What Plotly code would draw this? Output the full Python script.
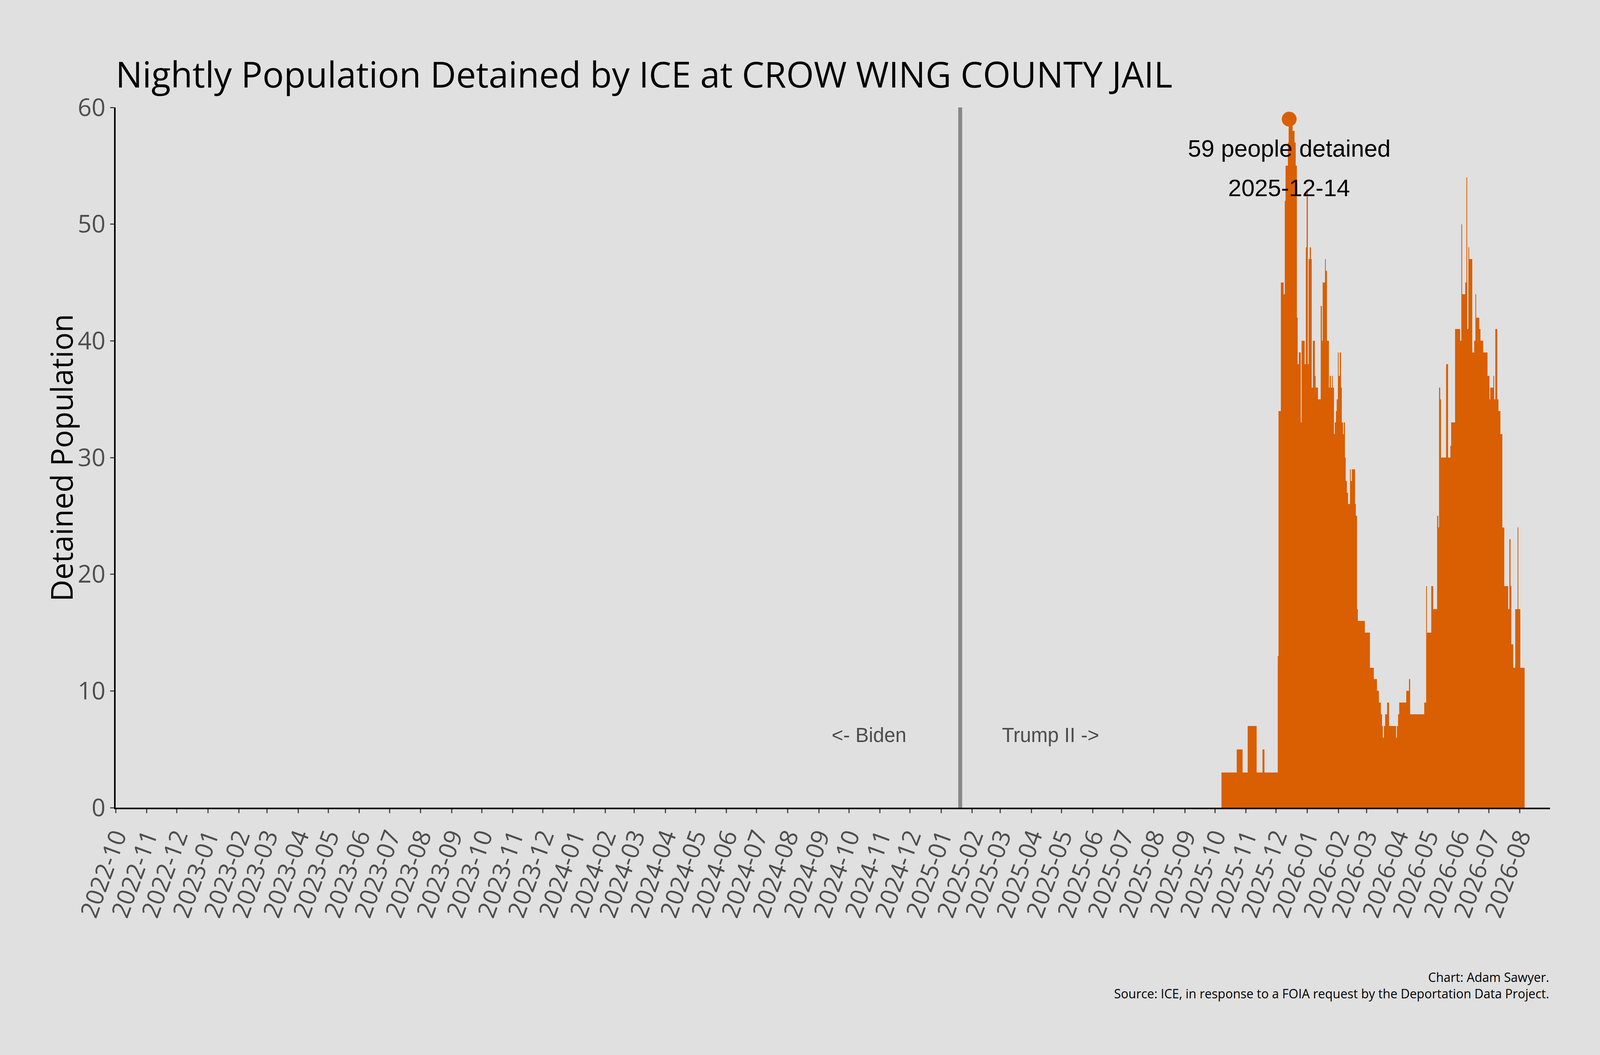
import pandas as pd
import plotly.graph_objs as go

# nightly ICE population, one value per night starting 2025-10-08
start_date = "2025-10-08"
oct_2025 = [3, 3, 3, 3, 3, 3, 3, 3, 3, 3, 3, 3, 3, 3, 3, 5, 5, 5, 5, 5, 5, 3, 3, 3]
nov_2025 = [3, 3, 7, 7, 7, 7, 7, 7, 7, 7, 7, 3, 3, 3, 3, 3, 3, 5, 5, 3,
            3, 3, 3, 3, 3, 3, 3, 3, 3, 3]
dec_2025 = [3, 3, 13, 34, 34, 45, 45, 45, 44, 52, 55, 55, 57, 59, 59, 59, 59, 58, 58, 57,
            55, 42, 38, 39, 39, 33, 40, 40, 40, 38, 48]
jan_2026 = [53, 38, 47, 48, 47, 36, 40, 40, 37, 36, 36, 35, 35, 35, 43, 40, 45, 45, 47, 46,
            40, 40, 36, 37, 36, 37, 36, 32, 33, 34, 35]
feb_2026 = [39, 37, 39, 36, 33, 32, 33, 30, 28, 27, 26, 26, 29, 28, 29, 29, 29, 26, 25, 17,
            16, 16, 16, 16, 16, 16, 16, 15]
mar_2026 = [15, 15, 15, 15, 12, 12, 12, 12, 11, 11, 11, 10, 10, 9, 9, 8, 7, 6, 7, 8,
            8, 9, 9, 7, 7, 7, 7, 7, 7, 7, 6]
apr_2026 = [7, 8, 9, 9, 9, 9, 9, 9, 9, 10, 10, 10, 11, 8, 8, 8, 8, 8, 8, 8,
            8, 8, 8, 8, 8, 8, 8, 9, 9, 19]
may_2026 = [15, 15, 15, 15, 19, 19, 17, 17, 17, 17, 25, 24, 36, 35, 30, 30, 30, 30, 30, 38,
            38, 30, 30, 31, 33, 33, 33, 33, 41, 41, 41]
jun_2026 = [41, 41, 40, 50, 44, 44, 44, 45, 54, 41, 48, 47, 47, 47, 39, 39, 40, 44, 42, 42,
            42, 41, 40, 40, 40, 39, 39, 39, 39, 37]
jul_2026 = [37, 35, 36, 36, 36, 37, 35, 41, 41, 35, 34, 34, 32, 32, 24, 24, 19, 19, 19, 19,
            17, 23, 19, 14, 14, 12, 12, 17, 17, 24, 17]
aug_2026 = [17, 12, 12, 12, 12]

detained = (oct_2025 + nov_2025 + dec_2025 + jan_2026 + feb_2026 + mar_2026
            + apr_2026 + may_2026 + jun_2026 + jul_2026 + aug_2026)
dates = pd.date_range(start_date, periods=len(detained), freq="D")

inauguration = "2025-01-20"
biden_label_date = "2024-10-21"
trump_label_date = "2025-04-20"

peak_i = max(range(len(detained)), key=lambda i: detained[i])
peak_date = dates[peak_i]
peak_val = detained[peak_i]

orange = "#D95F02"
bg = "#E0E0E0"
ui_font = "Open Sans"
label_font = "Liberation Sans, Arial"

fig = go.Figure()
fig.add_trace(go.Bar(x=dates, y=detained, marker=dict(color=orange, line=dict(width=0)),
                     showlegend=False))
fig.add_trace(go.Scatter(x=[peak_date], y=[peak_val], mode="markers",
                         marker=dict(color=orange, size=38), showlegend=False))

fig.add_shape(type="line", x0=inauguration, x1=inauguration, y0=0, y1=60,
              xref="x", yref="y", line=dict(color="#888888", width=10))

fig.add_annotation(x=peak_date, y=56.5, text=f"{peak_val} people detained", showarrow=False,
                   font=dict(family=label_font, size=61, color="black"))
fig.add_annotation(x=peak_date, y=53.1, text=peak_date.strftime("%Y-%m-%d"), showarrow=False,
                   font=dict(family=label_font, size=61, color="black"))
fig.add_annotation(x=biden_label_date, y=6.2, text="<- Biden", showarrow=False,
                   font=dict(family=label_font, size=51, color="#4d4d4d"))
fig.add_annotation(x=trump_label_date, y=6.2, text="Trump II ->", showarrow=False,
                   font=dict(family=label_font, size=51, color="#4d4d4d"))
fig.add_annotation(xref="paper", yref="paper", x=-0.038, y=0.5, textangle=-90,
                   xanchor="center", yanchor="middle", showarrow=False,
                   text="Detained Population",
                   font=dict(family=ui_font, size=77, color="black"))
fig.add_annotation(xref="paper", yref="paper", x=1, y=-0.2785, xanchor="right", yanchor="bottom",
                   align="right", showarrow=False,
                   text="Chart: Adam Sawyer.<br>Source: ICE, in response to a FOIA request by the Deportation Data Project.",
                   font=dict(family=ui_font, size=32, color="black"))

fig.update_layout(
    width=4096, height=2700,
    paper_bgcolor=bg, plot_bgcolor=bg,
    margin=dict(l=296, r=128, t=275, b=633),
    bargap=0,
    font=dict(family=ui_font, color="#4d4d4d"),
    title=dict(text="Nightly Population Detained by ICE at CROW WING COUNTY JAIL",
               x=0, xref="paper", xanchor="left", y=0.9287, yref="container", yanchor="middle",
               font=dict(family=ui_font, size=91, color="black")),
)
fig.update_xaxes(type="date", range=["2022-10-01", "2026-08-31"], dtick="M1", tick0="2022-10-01",
                 tickformat="%Y-%m", tickangle=-70, ticks="outside", ticklen=10, tickwidth=3,
                 tickcolor="#444444", showline=True, linecolor="black", linewidth=3.5,
                 showgrid=False, zeroline=False, tickfont=dict(size=62, color="#4d4d4d"))
fig.update_yaxes(range=[0, 60], dtick=10, ticks="outside", ticklen=10, tickwidth=3,
                 tickcolor="#444444", showline=True, linecolor="black", linewidth=3.5,
                 showgrid=False, zeroline=False, tickfont=dict(size=62, color="#4d4d4d"))

fig.write_html("out.html", config={"displayModeBar": False},
               post_script="document.body.style.margin='0';"
                           "document.body.style.overflow='hidden';"
                           "document.body.style.background='#E0E0E0';")
